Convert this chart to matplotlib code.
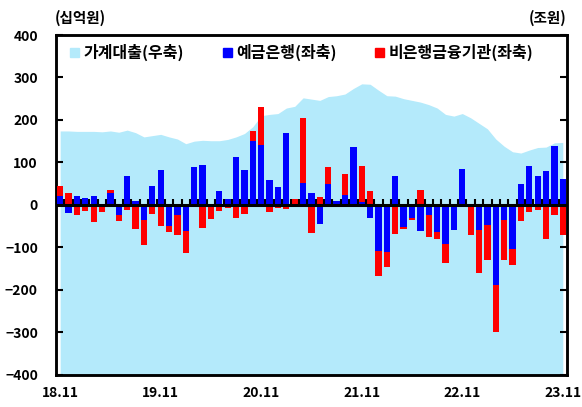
import numpy as np
import matplotlib.pyplot as plt
from matplotlib.patches import Patch

plt.rcParams['font.family'] = ['Noto Sans CJK KR', 'DejaVu Sans']
plt.rcParams['font.weight'] = 'bold'

# monthly data, 2018.11 ~ 2023.11
x_labels = ['18.11', '19.11', '20.11', '21.11', '22.11', '23.11']

# 예금은행 (십억원, left axis)
bank = [21, -19, 22, 17, 22, 2, 27, -24, 68, 8,
        -36, 45, 81, -49, -24, -62, 90, 93, 0, 32,
        13, 113, 83, 151, 142, 58, 42, 169, 0, 51,
        29, -44, 48, 10, 23, 137, 6, -30, -109, -112,
        68, -52, -30, -61, -24, -64, -93, -60, 85, 0,
        -60, -47, -189, -35, -103, 48, 91, 69, 79, 138,
        62]

# 비은행금융기관 (십억원, left axis)
nonbank = [24, 27, -25, -14, -40, -16, 9, -15, -13, -57,
           -58, -22, -49, -16, -47, -51, -5, -54, -34, -14,
           -7, -30, -22, 23, 89, -16, -7, -9, 13, 154,
           -67, 19, 40, -5, 49, 0, 85, 33, -58, -35,
           -68, -5, -6, 36, -51, -16, -43, 0, 0, -71,
           -100, -83, -110, -94, -38, -39, -16, -13, -81, -25,
           -71]

# 가계대출 (우축)
household = [174, 174, 173, 173, 173, 172, 174, 171, 176, 170,
             160, 163, 166, 160, 155, 144, 150, 152, 151, 151,
             154, 160, 168, 184, 210, 213, 215, 228, 232, 252,
             249, 246, 255, 257, 261, 274, 285, 284, 270, 257,
             256, 250, 246, 242, 236, 228, 213, 209, 215, 205,
             192, 179, 155, 138, 125, 122, 129, 135, 136, 146,
             147]

bank = np.array(bank, dtype=float)
nonbank = np.array(nonbank, dtype=float)
household = np.array(household, dtype=float)
n = len(bank)
x = np.arange(n)

fig = plt.figure(figsize=(5.82, 4.07), dpi=100)
ax = fig.add_axes([0.0962, 0.0794, 0.8780, 0.8346])
ax2 = ax.twinx()

# area on right axis, kept behind the bars
ax2.set_ylim(-400, 400)
ax2.fill_between(x, household, -400, color='#B4EAFB', lw=0)
ax.set_zorder(ax2.get_zorder() + 1)
ax.patch.set_visible(False)

# stacked bars, red stacks on blue when same sign
bottom_red = np.where(np.sign(nonbank) == np.sign(bank), bank, 0)
ax.bar(x, bank, width=0.75, color='#0000FF', zorder=3)
ax.bar(x, nonbank, width=0.75, bottom=bottom_red, color='#FF0000', zorder=3)

ax.axhline(0, color='black', lw=2.2, zorder=4)
ax.vlines(x[:-1] + 0.5, 0, 14, color='black', lw=1.5, zorder=4)

ax.set_xlim(-0.5, n - 0.5)
ax.set_ylim(-400, 400)
ax.set_yticks(range(-400, 401, 100))
ax.tick_params(axis='y', direction='in', length=5, width=1.5, pad=13, labelsize=10)
ax2.set_yticks(range(-400, 401, 100))
ax2.tick_params(axis='y', direction='in', length=5, width=1.5, labelright=False)
ax.set_xticks(range(0, n, 12))
ax.set_xticklabels(x_labels)
ax.tick_params(axis='x', length=0, pad=8, labelsize=10)
for a in (ax, ax2):
    for s in a.spines.values():
        s.set_linewidth(1.8)
for t in ax.get_yticklabels() + ax.get_xticklabels():
    t.set_fontweight('bold')

fig.text(0.094, 0.955, '(십억원)', fontsize=10.5, fontweight='bold', ha='left', va='center')
fig.text(0.974, 0.955, '(조원)', fontsize=10.5, fontweight='bold', ha='right', va='center')

handles = [Patch(color='#B4EAFB', label='가계대출(우축)'),
           Patch(color='#0000FF', label='예금은행(좌축)'),
           Patch(color='#FF0000', label='비은행금융기관(좌축)')]
leg = ax.legend(handles=handles, ncol=3, loc='upper left', bbox_to_anchor=(0.0, 1.015),
                frameon=False, handlelength=0.55, handleheight=0.55, handletextpad=0.3,
                columnspacing=2.4, prop={'size': 11.5, 'weight': 'bold'})

plt.savefig('out.png', dpi=100)
